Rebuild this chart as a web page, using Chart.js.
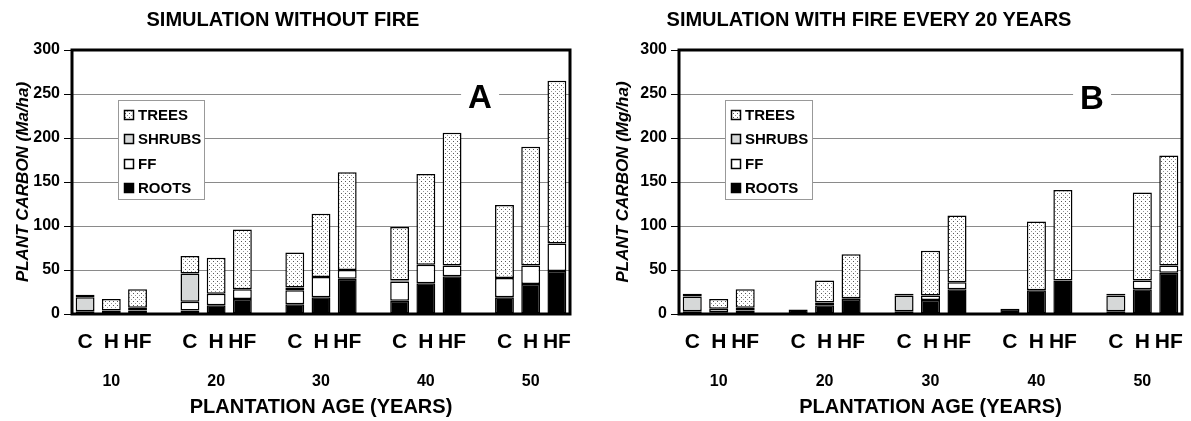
<!DOCTYPE html>
<html>
<head>
<meta charset="utf-8">
<script src="https://cdn.jsdelivr.net/npm/chart.js@4.4.1/dist/chart.umd.min.js"></script>
<style>
  body { margin: 0; background: #fff; font-family: "Liberation Sans", Arial, sans-serif; }
  #wrap { position: relative; width: 1191px; height: 421px; overflow: hidden; }
  canvas { position: absolute; top: 0; }
  .title { position: absolute; top: 8px; font-weight: bold; font-size: 20px; white-space: nowrap; transform: translateX(-50%); }
  .letter { position: absolute; font-weight: bold; font-size: 33px; line-height: 30px; background: #fff; padding: 0 7px; transform: translate(-50%, -50%); }
</style>
</head>
<body>
<div id="wrap">
  <canvas id="chartA" width="600" height="421" style="left:0"></canvas>
  <canvas id="chartB" width="591" height="421" style="left:600px"></canvas>
  <div class="title" style="left:283px">SIMULATION WITHOUT FIRE</div>
  <div class="title" style="left:869px">SIMULATION WITH FIRE EVERY 20 YEARS</div>
  <div class="letter" style="left:480px;top:97px">A</div>
  <div class="letter" style="left:1092px;top:98px">B</div>
</div>
<script>
// categories
const AGES = ['10', '20', '30', '40', '50'];
const TREATMENTS = ['C', 'H', 'HF'];
const Y_TICKS = [0, 50, 100, 150, 200, 250, 300];

// panel A - no fire (bars ordered C, H, HF for each age), Mg/ha
const A_ROOTS  = [1, 1, 4,   4, 10, 17,  11, 19, 40,  15, 35, 43,  19, 34, 49];
const A_FF     = [2, 3, 3,  10, 13, 11,  16, 23, 10,  22, 21, 12,  22, 21, 31];
const A_SHRUBS = [16, 0, 0, 32, 0, 0,     3, 0, 0,     1, 0, 0,     0, 0, 0];
const A_TREES  = [3, 13, 21, 20, 41, 68, 40, 72, 111, 61, 103, 151, 83, 135, 185];

// panel B - fire every 20 years
const B_ROOTS  = [1, 2, 4,   5, 10, 17,   1, 16, 28,   6, 27, 38,   1, 28, 47];
const B_FF     = [2, 4, 3,   0, 3, 1,     2, 5, 8,     0, 0, 0,     2, 10, 8];
const B_SHRUBS = [17, 0, 0,  0, 0, 0,    18, 0, 0,     0, 0, 0,    18, 0, 0];
const B_TREES  = [3, 11, 21, 0, 25, 50,   2, 51, 76,   0, 78, 103,  2, 100, 125];

// one empty slot between age groups
const toSlots = arr => {
    const out = [];
    arr.forEach((v, i) => {
        out.push(v || null);
        if (i % 3 === 2 && i < arr.length - 1) out.push(null);
    });
    return out;
};
const TREAT_SLOTS = [];
const AGE_SLOTS = [];
AGES.forEach((age, g) => {
    TREATMENTS.forEach((t, j) => { TREAT_SLOTS.push(t); AGE_SLOTS.push(j === 1 ? age : ''); });
    if (g < AGES.length - 1) { TREAT_SLOTS.push(''); AGE_SLOTS.push(''); }
});

// dotted fill for trees
const dots = document.createElement('canvas');
dots.width = 4; dots.height = 4;
const dctx = dots.getContext('2d');
dctx.fillStyle = '#fff'; dctx.fillRect(0, 0, 4, 4);
dctx.fillStyle = '#555'; dctx.fillRect(1, 1, 1, 1);
dctx.fillStyle = '#999'; dctx.fillRect(3, 3, 1, 1);
const treePattern = dctx.createPattern(dots, 'repeat');

const FONT = '"Liberation Sans", Arial, sans-serif';

const framePlugin = {
    id: 'frame',
    afterDatasetsDraw(chart) {
        const { ctx, chartArea: a } = chart;
        ctx.save();
        ctx.lineWidth = 3;
        ctx.strokeStyle = '#000';
        ctx.strokeRect(a.left, a.top, a.right - a.left, a.bottom - a.top);
        ctx.restore();
    }
};

const boxLegend = {
    id: 'boxLegend',
    afterDraw(chart, args, opts) {
        const { ctx } = chart;
        const items = chart.data.datasets.slice().reverse();
        ctx.save();
        ctx.fillStyle = '#fff';
        ctx.fillRect(opts.x, opts.y, opts.w, opts.h);
        ctx.strokeStyle = '#999';
        ctx.lineWidth = 1;
        ctx.strokeRect(opts.x + 0.5, opts.y + 0.5, opts.w, opts.h);
        ctx.font = 'bold 15px ' + FONT;
        ctx.textBaseline = 'middle';
        items.forEach((ds, i) => {
            const cy = Math.round(opts.y + 15 + i * 24.3);
            ctx.fillStyle = ds.backgroundColor;
            ctx.fillRect(opts.x + 6, cy - 5, 10, 10);
            ctx.strokeStyle = '#000';
            ctx.lineWidth = 1.5;
            ctx.strokeRect(opts.x + 6.5, cy - 4.5, 9, 9);
            ctx.fillStyle = '#000';
            ctx.fillText(ds.label, opts.x + 20, cy + 1);
        });
        ctx.restore();
    }
};

function makeChart(id, roots, ff, shrubs, trees, cfg) {
    const seg = (label, data, color) => ({
        label, data: toSlots(data), backgroundColor: color,
        borderColor: '#000', borderWidth: 1.5, borderSkipped: false,
        barPercentage: 0.72, categoryPercentage: 1,
    });
    return new Chart(document.getElementById(id), {
        type: 'bar',
        data: {
            labels: TREAT_SLOTS,
            datasets: [
                seg('ROOTS', roots, '#000'),
                seg('FF', ff, '#fff'),
                seg('SHRUBS', shrubs, '#d6d8d8'),
                seg('TREES', trees, treePattern),
            ],
        },
        plugins: [framePlugin, boxLegend],
        options: {
            responsive: false,
            animation: false,
            events: [],
            layout: { padding: { top: 50, right: cfg.padRight, left: 0, bottom: 0 } },
            plugins: {
                legend: { display: false },
                tooltip: { enabled: false },
                boxLegend: cfg.legend,
            },
            scales: {
                x: {
                    stacked: true,
                    weight: 0,
                    grid: { display: false },
                    border: { display: false },
                    ticks: { color: '#000', font: { family: FONT, size: 21, weight: 'bold' }, padding: 8, autoSkip: false, maxRotation: 0 },
                    afterFit: s => { s.height = 42; },
                },
                x2: {
                    type: 'category',
                    labels: AGE_SLOTS,
                    position: 'bottom',
                    weight: 1,
                    offset: true,
                    grid: { display: false },
                    border: { display: false },
                    ticks: { color: '#000', font: { family: FONT, size: 16, weight: 'bold' }, padding: 8, autoSkip: false, maxRotation: 0 },
                    title: { display: true, text: 'PLANTATION AGE (YEARS)', color: '#000', font: { family: FONT, size: 20, weight: 'bold' }, padding: { top: 0, bottom: 2 } },
                    afterFit: s => { s.height = 65; },
                },
                y: {
                    stacked: true,
                    min: 0,
                    max: 300,
                    afterBuildTicks: s => { s.ticks = Y_TICKS.map(v => ({ value: v })); },
                    grid: { color: '#8a8a8a', lineWidth: 1, tickLength: 8, tickColor: '#000' },
                    border: { display: false },
                    ticks: { color: '#000', font: { family: FONT, size: 16, weight: 'bold' }, padding: 4 },
                    title: { display: true, text: cfg.yTitle, color: '#000', font: { family: FONT, size: 17, weight: 'bold', style: 'italic' }, padding: { top: 13, bottom: 0 } },
                    afterFit: s => { s.width = cfg.yWidth; },
                },
            },
        },
    });
}

makeChart('chartA', A_ROOTS, A_FF, A_SHRUBS, A_TREES, {
    yTitle: 'PLANT CARBON (Ma/ha)', yWidth: 72, padRight: 30,
    legend: { x: 118, y: 100, w: 86, h: 99 },
});
makeChart('chartB', B_ROOTS, B_FF, B_SHRUBS, B_TREES, {
    yTitle: 'PLANT CARBON (Mg/ha)', yWidth: 79, padRight: 8,
    legend: { x: 125, y: 100, w: 87, h: 99 },
});
</script>
</body>
</html>
